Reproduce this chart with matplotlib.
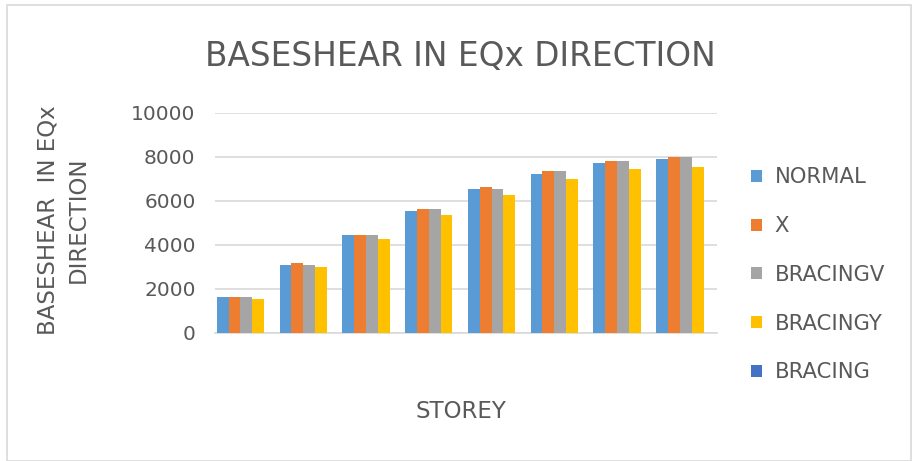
import numpy as np
import matplotlib.pyplot as plt
from matplotlib.patches import Rectangle

# данные
storeys = [1, 2, 3, 4, 5, 6, 7, 8]
normal = [1655, 3110, 4455, 5565, 6565, 7215, 7745, 7925]
x_brace = [1655, 3200, 4455, 5655, 6655, 7380, 7835, 8020]
bracing_v = [1655, 3110, 4455, 5655, 6565, 7380, 7835, 8020]
bracing_y = [1545, 3020, 4290, 5380, 6290, 7020, 7475, 7565]
bracing = [None] * 8  # пустая серия, место под неё всё равно занято

series = [normal, x_brace, bracing_v, bracing_y, bracing]
names = ['NORMAL', 'X', 'BRACINGV', 'BRACINGY', 'BRACING']
colors = ['#5B9BD5', '#ED7D31', '#A5A5A5', '#FFC000', '#4472C4']
yticks = [0, 2000, 4000, 6000, 8000, 10000]

txt_color = '#595959'

fig = plt.figure(figsize=(9.13, 4.61), dpi=100)
fig.patches.append(Rectangle((0.008, 0.0), 0.99, 0.99, transform=fig.transFigure,
                             fill=False, edgecolor='#D9D9D9', linewidth=1.2))

ax = fig.add_axes([0.2355, 0.2777, 0.55, 0.4772])

n = len(series)
gap = 0.3
bw = 1 / (n + gap)
idx = np.arange(len(storeys))
for i, (vals, nm, c) in enumerate(zip(series, names, colors)):
    v = np.array([np.nan if a is None else a for a in vals], dtype=float)
    offs = (i - (n - 1) / 2) * bw
    ax.bar(idx + offs, v, width=bw, color=c, label=nm, zorder=3)

ax.set_xlim(-0.5, len(storeys) - 0.5)
ax.set_ylim(0, 10000)
ax.set_yticks(yticks)
ax.set_yticklabels([str(t) for t in yticks], fontsize=14.5, color=txt_color)
ax.set_xticks([])
ax.tick_params(axis='y', length=0, pad=14)
ax.grid(axis='y', color='#D9D9D9', linewidth=1.2, zorder=0)
for s in ['top', 'right', 'left']:
    ax.spines[s].set_visible(False)
ax.spines['bottom'].set_color('#D9D9D9')
ax.spines['bottom'].set_linewidth(1.2)

fig.text(0.504, 0.877, 'BASESHEAR IN EQx DIRECTION', ha='center', va='center',
         fontsize=23.6, color=txt_color)
fig.text(0.0696, 0.523, 'BASESHEAR  IN EQx\nDIRECTION', ha='center', va='center',
         rotation=90, fontsize=16.5, color=txt_color, linespacing=1.4)
fig.text(0.505, 0.107, 'STOREY', ha='center', va='center', fontsize=16.5, color=txt_color)

leg = ax.legend(loc='center left', bbox_to_anchor=(1.03, 0.264), frameon=False,
                fontsize=15.2, handlelength=0.5, handleheight=0.5, handletextpad=0.6,
                labelspacing=1.36, labelcolor=txt_color)

fig.savefig('out.png', dpi=100)
